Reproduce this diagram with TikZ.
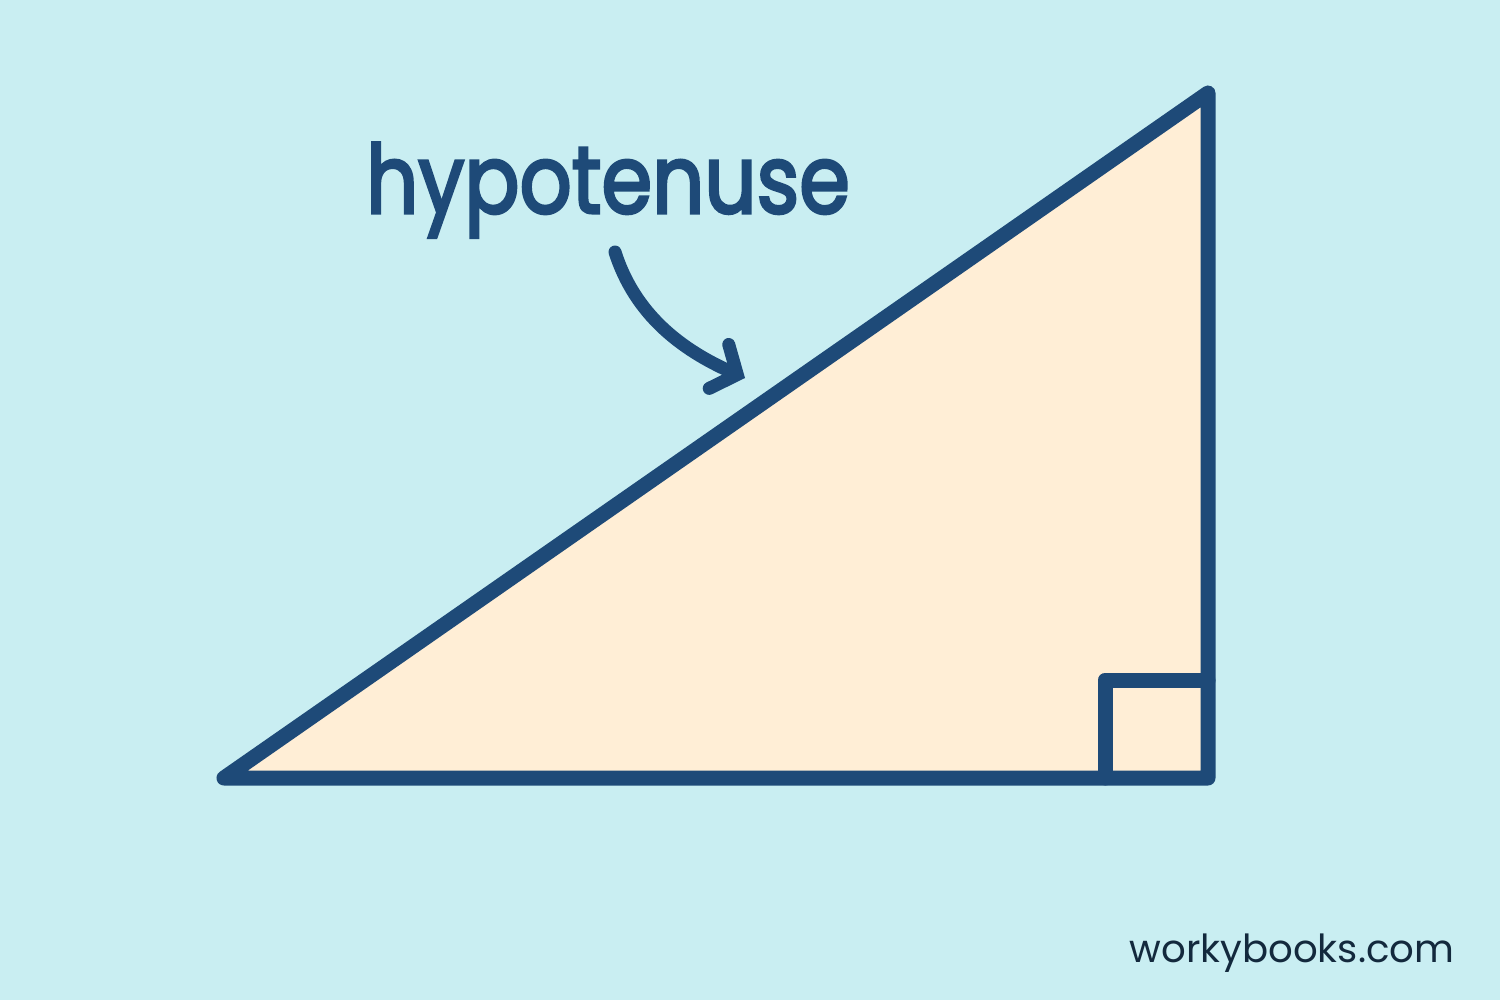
\documentclass[tikz,border=0pt]{standalone}
\usepackage{fontspec}
\setmainfont{Poppins}
\newfontfamily\tagfont{Poppins}[FakeBold=3.2]
\usepackage{tikz}
\usetikzlibrary{arrows.meta,positioning}
\definecolor{bgcyan}{HTML}{C9EEF2}
\definecolor{sidefill}{HTML}{FFEED6}
\definecolor{inkblue}{HTML}{1E4A78}
\definecolor{markgray}{HTML}{13293D}

\begin{document}
\begin{tikzpicture}[x=0.01cm, y=-0.01cm,
	side/.style={draw=inkblue, line width=0.15cm, line join=round, line cap=round},
	pointer/.style={draw=inkblue, line width=0.13cm, line cap=round, line join=round, -{Straight Barb[length=0.2cm, width=0.48cm, line cap=round]}},
	word/.style={text=inkblue, font=\fontsize{27}{30}\tagfont, inner sep=0pt}]
	\fill[bgcyan] (0,0) rectangle (1500,1000);
	\useasboundingbox (0,0) rectangle (1500,1000);

	\coordinate (A) at (224,778);
	\coordinate (B) at (1208,778);
	\coordinate (C) at (1208,93);
	\coordinate (Corner) at (1105,680);

	\filldraw[side, fill=sidefill] (A) -- (B) -- (C) -- cycle;
	\draw[side] (Corner |- B) -- (Corner) -- (Corner -| B);

	\node[word, anchor=base] (Hyp) at (608,213) {\scalebox{0.86}[1]{hypotenuse}};
	\coordinate (Tail) at (615,252);
	\coordinate (Tip) at (745,378);
	\draw[pointer] (Tail) .. controls (635,315) and (682,350) .. (Tip);

	\node[text=markgray, font=\fontsize{11}{13}\selectfont, anchor=base east, inner sep=0pt] (Site) at (1455,962) {workybooks.com};
\end{tikzpicture}
\end{document}
